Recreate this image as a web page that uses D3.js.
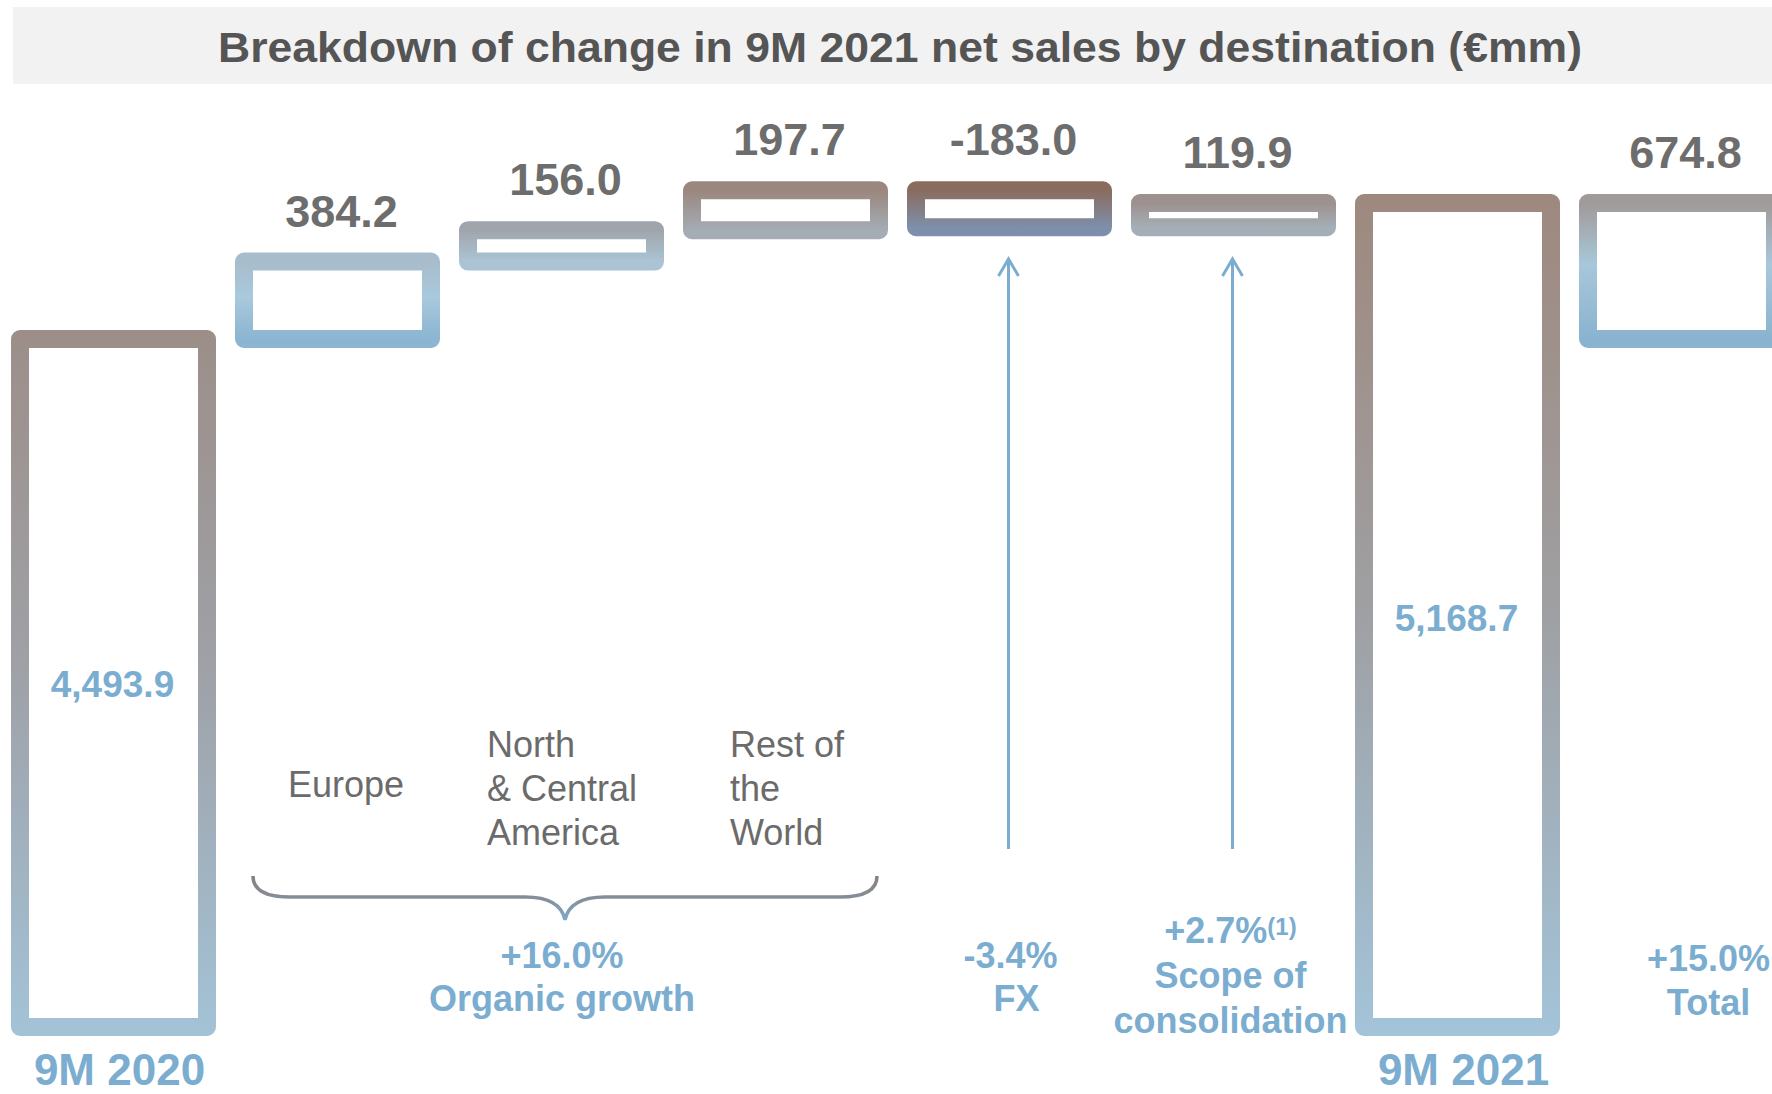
<!DOCTYPE html>
<html>
<head>
<meta charset="utf-8">
<script src="https://cdn.jsdelivr.net/npm/d3@7"></script>
<style>
    html, body { margin: 0; padding: 0; background: white; }
    svg { display: block; font-family: "Liberation Sans", Arial, sans-serif; }
</style>
</head>
<body>
<svg id="chart" width="1772" height="1094"></svg>
<script>
// Data
const categories = ['9M 2020', 'Europe', 'North|& Central|America', 'Rest of|the|World', 'FX', 'Scope of consolidation', '9M 2021', 'Total'];
const values = [4493.9, 384.2, 156.0, 197.7, -183.0, 119.9, 5168.7, 674.8];
const barKinds = ['total', 'delta', 'delta', 'delta', 'delta', 'delta', 'total', 'change'];
const valueLabels = ['4,493.9', '384.2', '156.0', '197.7', '-183.0', '119.9', '5,168.7', '674.8'];
const growthPct = ['+16.0%', '-3.4%', '+2.7%', '+15.0%'];
const growthNames = ['Organic growth', 'FX', 'Scope of|consolidation', 'Total'];

// Constants
const W = 1772, H = 1094;
const AXIS_BASE = 1080;           // truncated base of the value axis
const STROKE_W = 18;
const BLUE = '#7badd0';
const GREY_TEXT = '#6d6d6d';

// Gradient stops for each bar's outline (top -> bottom)
const barGradients = [
    [['0', '#9c8f8a'], ['0.5', '#9fa2a8'], ['1', '#a3c2d6']],
    [['0', '#a8bccb'], ['0.45', '#a9c9dd'], ['1', '#8bb5d1']],
    [['0', '#a0a5ac'], ['1', '#abc4d4']],
    [['0', '#9b877e'], ['1', '#a4acb4']],
    [['0', '#8a6c5e'], ['1', '#7d8faa']],
    [['0', '#9c918e'], ['1', '#a4aeb6']],
    [['0', '#9e897f'], ['0.5', '#9fa0a3'], ['1', '#a3c3d8']],
    [['0', '#a09a99'], ['0.45', '#a8c7da'], ['1', '#8ab3cf']]
];

const svg = d3.select('#chart');

// Waterfall extents
let running = 0;
const bars = values.map((v, i) => {
    let start, end;
    if (barKinds[i] === 'total') { start = AXIS_BASE; end = v; running = v; }
    else if (barKinds[i] === 'delta') { start = running; end = running + v; running = end; }
    else { start = values[0]; end = values[0] + v; }
    return { i, start, end, label: valueLabels[i], kind: barKinds[i] };
});

// Scales
const x = d3.scaleBand()
    .domain(d3.range(categories.length))
    .range([1.5, 1.5 + 224 * categories.length])
    .paddingInner(37 / 224)
    .paddingOuter(37 / 448);

const y = d3.scaleLinear()
    .domain([AXIS_BASE, 5168.7])
    .range([1027, 203]);

// Gradients
const defs = svg.append('defs');
barGradients.forEach((stops, i) => {
    const g = defs.append('linearGradient')
        .attr('id', 'grad' + i)
        .attr('x1', 0).attr('y1', 0).attr('x2', 0).attr('y2', 1);
    stops.forEach(s => g.append('stop').attr('offset', s[0]).attr('stop-color', s[1]));
});
const braceGrad = defs.append('linearGradient')
    .attr('id', 'braceGrad')
    .attr('x1', 0).attr('y1', 0).attr('x2', 0).attr('y2', 1);
braceGrad.append('stop').attr('offset', '0').attr('stop-color', '#8d7e78');
braceGrad.append('stop').attr('offset', '0.5').attr('stop-color', '#858e99');
braceGrad.append('stop').attr('offset', '1').attr('stop-color', '#7eaacb');

// Title band
svg.append('rect')
    .attr('x', 13).attr('y', 7)
    .attr('width', W - 13).attr('height', 77)
    .attr('fill', '#f2f2f2');
svg.append('text')
    .attr('x', 900).attr('y', 62)
    .attr('text-anchor', 'middle')
    .attr('font-size', 42).attr('font-weight', 'bold')
    .attr('fill', '#555555')
    .attr('textLength', 1364).attr('lengthAdjust', 'spacingAndGlyphs')
    .text('Breakdown of change in 9M 2021 net sales by destination (€mm)');

// Bars
const barTop = (b) => y(Math.max(b.start, b.end));
const barBottom = (b) => y(Math.min(b.start, b.end));
const cx = (i) => x(i) + x.bandwidth() / 2;

svg.append('g').attr('class', 'bars')
    .selectAll('rect').data(bars).enter().append('rect')
    .attr('x', b => x(b.i))
    .attr('y', barTop)
    .attr('width', x.bandwidth())
    .attr('height', b => barBottom(b) - barTop(b))
    .attr('fill', 'white')
    .attr('stroke', b => 'url(#grad' + b.i + ')')
    .attr('stroke-width', STROKE_W)
    .attr('stroke-linejoin', 'round');

// Value labels above the change bars
svg.append('g').attr('class', 'values')
    .selectAll('text').data(bars.filter(b => b.kind !== 'total')).enter().append('text')
    .attr('x', b => cx(b.i) + 4)
    .attr('y', b => barTop(b) - 35)
    .attr('text-anchor', 'middle')
    .attr('font-size', 45).attr('font-weight', 'bold')
    .attr('fill', GREY_TEXT)
    .text(b => b.label);

// Value labels inside the totals
svg.append('g').attr('class', 'totals')
    .selectAll('text').data(bars.filter(b => b.kind === 'total')).enter().append('text')
    .attr('x', b => cx(b.i) - 1)
    .attr('y', b => barTop(b) + 0.52 * (barBottom(b) - barTop(b)))
    .attr('text-anchor', 'middle')
    .attr('font-size', 37).attr('font-weight', 'bold')
    .attr('fill', BLUE)
    .text(b => b.label);

// Category labels under the totals
svg.append('g').attr('class', 'periods')
    .selectAll('text').data(bars.filter(b => b.kind === 'total')).enter().append('text')
    .attr('x', b => cx(b.i) + 6)
    .attr('y', 1085)
    .attr('text-anchor', 'middle')
    .attr('font-size', 44).attr('font-weight', 'bold')
    .attr('fill', BLUE)
    .text(b => categories[b.i]);

// Region labels (multi-line)
const regionLayout = [
    { i: 1, dx: 44, y: 797 },
    { i: 2, dx: 19, y: 757 },
    { i: 3, dx: 38, y: 757 }
];
const regions = svg.append('g').attr('class', 'regions');
regionLayout.forEach(r => {
    const t = regions.append('text')
        .attr('font-size', 36)
        .attr('fill', '#6b6b6b');
    categories[r.i].split('|').forEach((line, k) => {
        t.append('tspan')
            .attr('x', x(r.i) + r.dx)
            .attr('y', r.y + k * 44)
            .text(line);
    });
});

// Brace under the organic-growth bars
const bl = x(1) + 9, br = x(3) + x.bandwidth() - 2, bm = (bl + br) / 2;
const by0 = 876, by1 = 897, by2 = 920;
svg.append('path')
    .attr('d', `M${bl},${by0} C${bl},${by1 - 7} ${bl + 12},${by1} ${bl + 37},${by1}
                L${bm - 40},${by1} C${bm - 17},${by1} ${bm - 3},${by1 + 8} ${bm},${by2}
                C${bm + 3},${by1 + 8} ${bm + 17},${by1} ${bm + 40},${by1}
                L${br - 37},${by1} C${br - 12},${by1} ${br},${by1 - 7} ${br},${by0}`)
    .attr('fill', 'none')
    .attr('stroke', 'url(#braceGrad)')
    .attr('stroke-width', 3.5);

// Arrows under FX and scope bars
const arrows = svg.append('g').attr('class', 'arrows')
    .attr('stroke', BLUE).attr('stroke-width', 3).attr('fill', 'none');
[4, 5].forEach(i => {
    const ax = cx(i) - 1;
    arrows.append('line')
        .attr('x1', ax).attr('x2', ax)
        .attr('y1', 259).attr('y2', 849);
    arrows.append('path')
        .attr('d', `M${ax - 10},${276} L${ax},${259} L${ax + 10},${276}`)
        .attr('stroke-linejoin', 'miter');
});

// Growth annotations
const growthLayout = [
    { x: bm - 3, y: 968, dy: 43 },
    { x: cx(4) + 1, y: 968, dy: 43 },
    { x: cx(5) - 3, y: 943, dy: 45 },
    { x: cx(7) + 27, y: 971, dy: 44 }
];
const growth = svg.append('g').attr('class', 'growth')
    .attr('font-weight', 'bold').attr('fill', BLUE).attr('text-anchor', 'middle');
growthLayout.forEach((g, k) => {
    const pct = growth.append('text')
        .attr('x', g.x).attr('y', g.y)
        .attr('font-size', 36)
        .text(growthPct[k]);
    if (k === 2) {
        pct.append('tspan')
            .attr('font-size', 24)
            .attr('dy', -8)
            .text('(1)');
    }
    growthNames[k].split('|').forEach((line, j) => {
        growth.append('text')
            .attr('x', g.x + (k === 1 ? 6 : 0))
            .attr('y', g.y + g.dy * (j + 1))
            .attr('font-size', 36)
            .text(line);
    });
});
</script>
</body>
</html>
